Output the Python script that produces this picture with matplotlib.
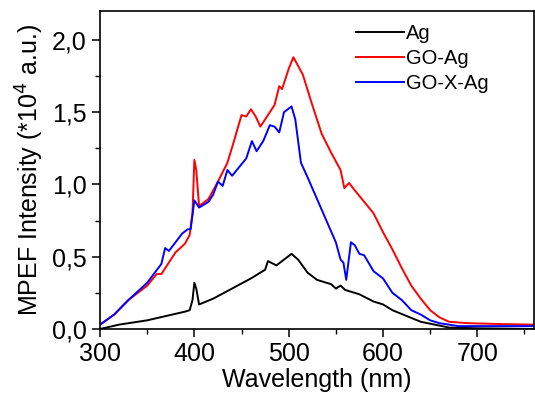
import matplotlib
matplotlib.use("Agg")
import matplotlib.pyplot as plt
from matplotlib.ticker import MultipleLocator, FuncFormatter

plt.rcParams['font.family'] = ['Liberation Sans', 'DejaVu Sans']

# Ag
wl_ag = [300, 320, 350, 370, 390, 395, 398, 400, 402, 405, 420, 440, 460, 475, 478,
         484, 487, 495, 503, 510, 520, 530, 545, 550, 555, 560, 575, 590, 600, 610,
         625, 640, 655, 670, 700, 760]
int_ag = [0.0, 0.03, 0.06, 0.09, 0.12, 0.13, 0.2, 0.32, 0.28, 0.17, 0.21, 0.28, 0.35,
          0.41, 0.47, 0.45, 0.44, 0.48, 0.52, 0.48, 0.39, 0.34, 0.31, 0.28, 0.3, 0.27,
          0.24, 0.19, 0.17, 0.13, 0.09, 0.05, 0.03, 0.01, 0.005, 0.0]

# GO-Ag
wl_go = [300, 315, 330, 350, 360, 365, 380, 390, 395, 398, 400, 402, 405, 415, 425,
         435, 442, 450, 455, 460, 465, 470, 480, 485, 490, 493, 500, 505, 510, 515,
         525, 535, 545, 555, 559, 564, 570, 580, 590, 600, 610, 620, 630, 640, 650,
         660, 670, 690, 720, 760]
int_go = [0.03, 0.1, 0.2, 0.3, 0.38, 0.38, 0.53, 0.59, 0.65, 0.8, 1.17, 1.1, 0.85,
          0.9, 1.02, 1.15, 1.3, 1.48, 1.47, 1.52, 1.47, 1.4, 1.5, 1.55, 1.68, 1.66,
          1.8, 1.88, 1.82, 1.76, 1.55, 1.35, 1.22, 1.1, 0.975, 1.01, 0.96, 0.88, 0.8,
          0.67, 0.55, 0.42, 0.3, 0.21, 0.13, 0.08, 0.05, 0.04, 0.035, 0.03]

# GO-X-Ag
wl_gox = [300, 315, 330, 350, 365, 369, 373, 380, 387, 393, 396, 400, 405, 415, 420,
          425, 430, 435, 440, 455, 461, 466, 473, 480, 485, 490, 495, 503, 507, 513,
          520, 530, 540, 550, 555, 558, 561, 566, 570, 575, 580, 590, 600, 610, 620,
          630, 640, 650, 660, 680, 760]
int_gox = [0.03, 0.1, 0.2, 0.32, 0.45, 0.56, 0.54, 0.6, 0.66, 0.69, 0.69, 0.89, 0.84,
           0.88, 0.93, 1.02, 0.99, 1.1, 1.06, 1.18, 1.3, 1.23, 1.3, 1.41, 1.4, 1.36,
           1.5, 1.54, 1.45, 1.15, 1.05, 0.9, 0.75, 0.6, 0.48, 0.46, 0.34, 0.6, 0.58,
           0.52, 0.51, 0.4, 0.35, 0.25, 0.2, 0.13, 0.1, 0.06, 0.04, 0.02, 0.02]

fig = plt.figure(figsize=(5.35, 4.0), dpi=100)
ax = fig.add_axes([0.187, 0.1775, 0.811, 0.795])

ax.plot(wl_ag, int_ag, color='black', lw=1.4, label='Ag')
ax.plot(wl_go, int_go, color='#ff0000', lw=1.4, label='GO-Ag')
ax.plot(wl_gox, int_gox, color='#0000ff', lw=1.4, label='GO-X-Ag')

ax.set_xlim(300, 760)
ax.set_ylim(0, 2.2)
ax.xaxis.set_major_locator(MultipleLocator(100))
ax.xaxis.set_minor_locator(MultipleLocator(50))
ax.yaxis.set_major_locator(MultipleLocator(0.5))
ax.yaxis.set_minor_locator(MultipleLocator(0.25))
ax.yaxis.set_major_formatter(FuncFormatter(lambda v, p: ('%.1f' % v).replace('.', ',')))

ax.tick_params(which='major', direction='out', length=6, width=1.1, labelsize=18)
ax.tick_params(which='minor', direction='out', length=3.5, width=1.0)
for s in ax.spines.values():
    s.set_linewidth(1.2)

ax.set_xlabel('Wavelength (nm)', fontsize=18, labelpad=1)
ax.set_ylabel('MPEF Intensity (*10$^4$ a.u.)', fontsize=18, labelpad=4)

ax.legend(loc='upper right', bbox_to_anchor=(0.915, 0.985), frameon=False,
          fontsize=14.5, handlelength=2.4, handletextpad=0.1, labelspacing=0.3,
          borderaxespad=0)

fig.savefig('out.png', dpi=100)
